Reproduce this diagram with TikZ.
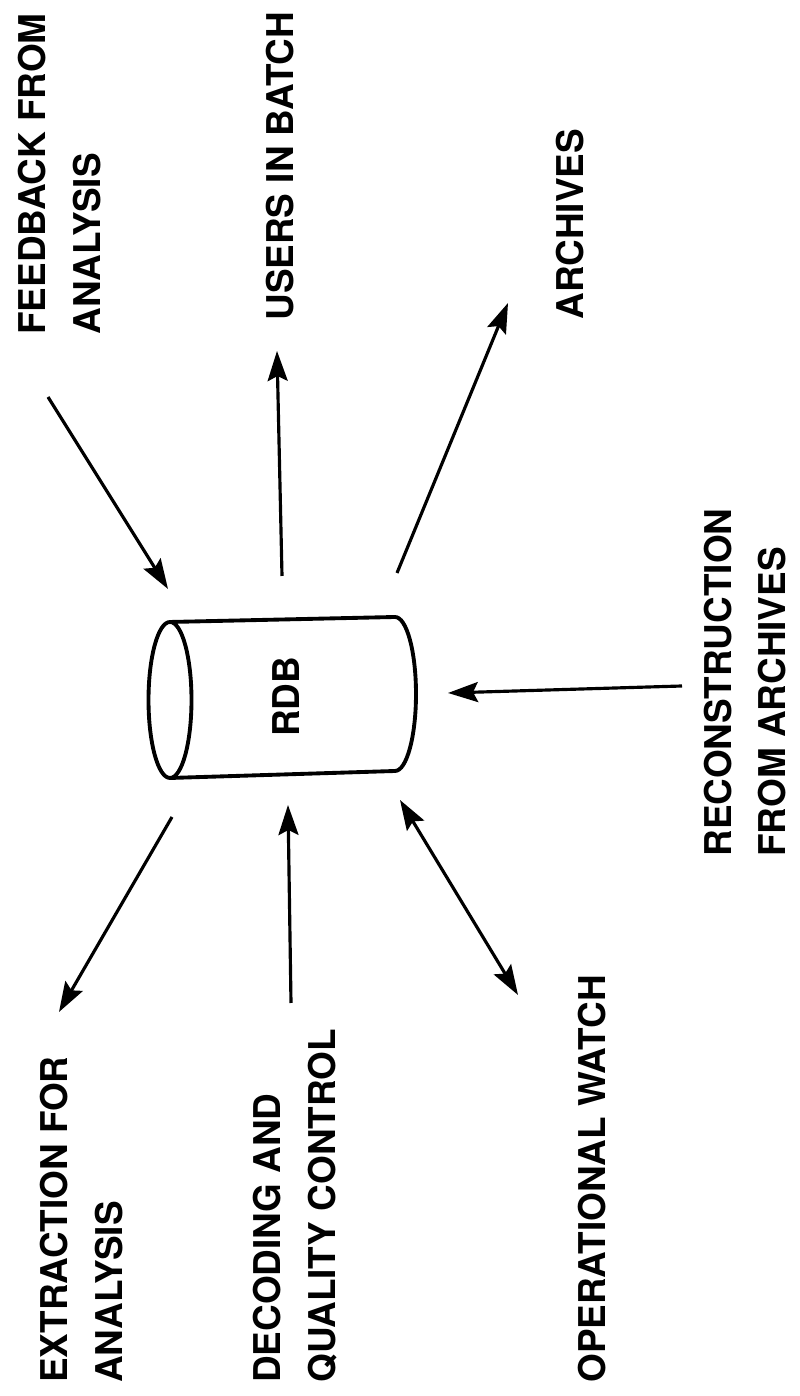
\documentclass[tikz,border=0pt]{standalone}
\usepackage{fontspec}
\setmainfont{TeX Gyre Heros}
\usepackage{tikz}
\usetikzlibrary{arrows.meta,positioning,calc}

\tikzset{
    lbl/.style={rotate=90, anchor=west, inner sep=0pt, align=left,
        font=\bfseries\fontsize{21}{31}\selectfont},
    arr/.style={-{Stealth[length=6mm,width=4mm,inset=1mm]}, line width=1.8pt},
    dblarr/.style={{Stealth[length=6mm,width=4mm,inset=1mm]}-{Stealth[length=6mm,width=4mm,inset=1mm]}, line width=1.8pt}
}

\begin{document}
\begin{tikzpicture}
    \useasboundingbox (0,0) rectangle (16,27.92);

    % RDB cylinder
    \draw[line width=2.2pt] (3.4,13.92) ellipse (0.43 and 1.56);
    \draw[line width=2.2pt] (3.4,15.48) -- (7.9,15.58)
        arc[start angle=90, end angle=-90, x radius=0.42, y radius=1.54]
        -- (3.4,12.36);
    \node[rotate=90, font=\bfseries\fontsize{21}{25}\selectfont] (rdb) at (5.72,13.98) {RDB};

    % Labels
    \node[lbl] (feedback) at (1.19,21.22) {FEEDBACK FROM\\ANALYSIS};
    \node[lbl] (users) at (5.6,21.5) {USERS IN BATCH};
    \node[lbl] (archives) at (11.4,21.52) {ARCHIVES};
    \node[lbl] (recon) at (14.9,10.78) {RECONSTRUCTION\\FROM ARCHIVES};
    \node[lbl] (extract) at (1.63,0.26) {EXTRACTION FOR\\ANALYSIS};
    \node[lbl] (decode) at (5.9,0.26) {DECODING AND\\QUALITY CONTROL};
    \node[lbl] (opwatch) at (11.84,0.26) {OPERATIONAL WATCH};

    % Arrow ends
    \coordinate (fbA) at (0.96,19.98);
    \coordinate (fbB) at (3.36,16.14);
    \coordinate (usA) at (5.64,16.40);
    \coordinate (usB) at (5.54,20.90);
    \coordinate (arA) at (7.94,16.46);
    \coordinate (arB) at (10.16,21.86);
    \coordinate (reA) at (13.64,14.20);
    \coordinate (reB) at (8.96,14.06);
    \coordinate (exA) at (3.44,11.58);
    \coordinate (exB) at (1.18,7.68);
    \coordinate (deA) at (5.82,7.86);
    \coordinate (deB) at (5.76,11.82);
    \coordinate (opA) at (8.0,11.92);
    \coordinate (opB) at (10.36,8.02);

    % Arrows
    \draw[arr] (fbA) -- (fbB);
    \draw[arr] (usA) -- (usB);
    \draw[arr] (arA) -- (arB);
    \draw[arr] (reA) -- (reB);
    \draw[arr] (exA) -- (exB);
    \draw[arr] (deA) -- (deB);
    \draw[dblarr] (opA) -- (opB);
\end{tikzpicture}
\end{document}
